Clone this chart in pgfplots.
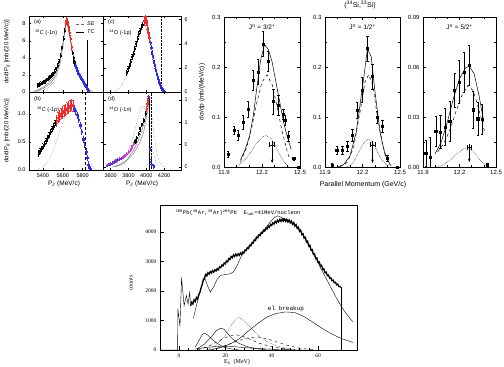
\documentclass[border=0pt]{standalone}
\usepackage{fontspec}
\setmainfont{Liberation Sans}
\newfontfamily\serifb{Liberation Serif}
\newfontfamily\monob{Liberation Mono}
\usepackage{pgfplots}
\pgfplotsset{compat=1.18}
\usetikzlibrary{arrows.meta}

\definecolor{ptred}{RGB}{235,45,45}
\definecolor{ptblue}{RGB}{45,45,225}
\definecolor{ptmag}{RGB}{215,60,215}
\definecolor{ptpur}{RGB}{120,50,200}
\definecolor{crv}{RGB}{105,105,105}

\pgfplotsset{
  base/.style={scale only axis, anchor=south west, tick align=inside,
    axis line style={line width=0.4pt}, tick style={line width=0.4pt, black},
    scaled ticks=false,
    /pgf/number format/1000 sep={},
    /pgf/number format/assume math mode=true},
  tl/.style={base, tick label style={font=\fontsize{5.5}{6}\selectfont},
    major tick length=2.2pt, minor tick length=1.2pt,
    xtick pos=both, ytick pos=both, xticklabel pos=lower, yticklabel pos=left},
  rp/.style={base, tick label style={font=\fontsize{6}{7}\selectfont},
    width=76pt, height=150pt, xmin=11.9, xmax=12.5, ymin=0,
    xtick={11.9,12.2,12.5}, minor x tick num=2, minor y tick num=1,
    major tick length=3pt, minor tick length=1.6pt,
    xtick pos=both, ytick pos=both, xticklabel pos=lower, yticklabel pos=left,
    xticklabel style={/pgf/number format/.cd, fixed, precision=1, fixed zerofill},
    every axis plot/.append style={line width=0.5pt}},
  pts/.style={only marks, mark=square*, mark size=0.55pt, line width=0.3pt,
    error bars/.cd, y dir=both, y fixed=#1},
  rpts/.style={only marks, mark=square*, mark size=1.1pt, line width=0.5pt,
    error bars/.cd, y dir=both, y explicit},
}

\begin{document}
\begin{tikzpicture}
\useasboundingbox (0pt,0pt) rectangle (504pt,367pt);
\clip (0pt,0pt) rectangle (504pt,367pt);

% ---------------- top left: (a)
\begin{axis}[tl, at={(29pt,275pt)}, width=74.5pt, height=76pt,
  xmin=5260, xmax=6010, ymin=0, ymax=8.9,
  xtick={5400,5600,5800}, xticklabels={}, ytick={0,2,4,6,8}]
\addplot[crv, densely dotted, line width=0.4pt] coordinates {
 (5350,0.05)(5400,0.2)(5450,0.5)(5500,1.0)(5540,1.8)(5570,3.0)(5600,5.0)(5620,6.9)(5635,7.9)(5650,7.6)(5670,6.4)(5700,4.6)(5740,2.8)(5780,1.6)(5820,0.7)(5860,0.2)(5900,0.03)};
\addplot[crv, line width=0.4pt] coordinates {
 (5300,0.05)(5350,0.25)(5400,0.55)(5450,1.0)(5500,1.6)(5540,2.5)(5570,3.7)(5600,5.6)(5620,7.3)(5635,8.1)(5650,7.7)(5670,6.4)(5700,4.7)(5740,3.0)(5780,1.8)(5820,0.9)(5860,0.3)(5900,0.05)};
\addplot[crv, line width=0.4pt] coordinates {
 (5330,0.05)(5380,0.3)(5430,0.6)(5480,1.05)(5530,1.9)(5570,3.3)(5600,5.3)(5620,7.1)(5635,8.0)};
\addplot[black, pts=0.22] coordinates {
 (5350,0.8)(5365,0.9)(5380,1.0)(5395,1.1)(5410,1.2)(5425,1.3)(5440,1.45)(5455,1.6)(5470,1.75)(5485,1.95)(5500,2.15)(5515,2.4)(5530,2.7)(5545,3.1)(5560,3.6)(5575,4.3)(5590,5.2)(5605,6.3)(5615,7.2)(5695,4.6)(5705,4.0)(5715,3.5)};
\addplot[ptred, pts=0.4] coordinates {
 (5625,8.0)(5635,8.4)(5645,8.2)(5655,7.6)(5665,7.0)(5675,6.2)(5685,5.3)};
\addplot[ptblue, pts=0.2] coordinates {
 (5725,3.1)(5735,2.8)(5745,2.5)(5755,2.2)(5765,2.0)(5775,1.8)(5785,1.6)(5795,1.4)(5805,1.2)(5815,1.0)(5825,0.8)(5835,0.6)(5845,0.4)(5855,0.2)(5865,0.05)};
\addplot[black, line width=0.4pt] coordinates {(5847,0)(5847,6.1)};
\end{axis}

% ---------------- (c)
\begin{axis}[tl, at={(103.5pt,275pt)}, width=77.5pt, height=76pt,
  xmin=3520, xmax=4390, ymin=0, ymax=6.3,
  xtick={3600,3800,4000,4200}, xticklabels={}, ytick={0,2,4,6}, yticklabel pos=right]
\addplot[crv, densely dotted, line width=0.4pt] coordinates {
 (3650,0.05)(3700,0.3)(3750,0.9)(3800,1.8)(3850,2.9)(3900,4.1)(3950,5.2)(3990,5.9)(4020,5.3)(4060,3.9)(4100,2.3)(4140,1.0)(4180,0.3)(4220,0.05)};
\addplot[black, pts=0.2] coordinates {
 (3780,1.6)(3795,1.9)(3810,2.2)(3825,2.5)(3840,2.9)(3855,3.2)(3870,3.6)(3885,4.0)(3900,4.4)(3915,4.8)(3930,5.1)(3945,5.4)(3960,5.6)};
\addplot[ptred, pts=0.4] coordinates {
 (3975,5.9)(3985,6.0)(3995,5.9)(4005,5.6)(4015,5.3)(4025,4.9)(4035,4.5)};
\addplot[ptblue, pts=0.15] coordinates {
 (4045,4.1)(4055,3.7)(4065,3.3)(4075,2.9)(4085,2.5)(4095,2.15)(4105,1.85)(4115,1.55)(4125,1.25)(4135,1.0)(4145,0.8)(4155,0.6)(4165,0.45)(4175,0.3)(4185,0.2)(4195,0.1)(4205,0.04)};
\addplot[black, densely dotted, line width=0.4pt] coordinates {(4173,0)(4173,6.3)};
\end{axis}

% ---------------- (b)
\begin{axis}[tl, at={(29pt,197pt)}, width=74.5pt, height=78pt,
  xmin=5260, xmax=6010, ymin=0, ymax=1.39,
  xtick={5400,5600,5800}, ytick={0,0.5,1.0},
  yticklabel style={/pgf/number format/.cd, fixed, precision=1, fixed zerofill}]
\addplot[crv, densely dotted, line width=0.4pt] coordinates {
 (5340,0.0)(5400,0.05)(5450,0.15)(5500,0.33)(5550,0.58)(5600,0.85)(5650,1.03)(5690,1.1)(5730,1.04)(5770,0.88)(5810,0.6)(5850,0.3)(5890,0.09)(5930,0.01)(5960,0)};
\addplot[black, pts=0.05] coordinates {
 (5355,0.3)(5370,0.34)(5385,0.38)(5400,0.42)(5415,0.47)(5430,0.52)(5445,0.57)(5460,0.62)(5475,0.68)(5490,0.73)(5505,0.78)(5520,0.84)};
\addplot[ptred, pts=0.1] coordinates {
 (5535,0.88)(5550,0.93)(5565,0.97)(5580,1.0)(5595,1.03)(5610,1.05)(5625,1.08)(5640,1.1)(5655,1.12)(5670,1.14)(5685,1.16)(5700,1.14)};
\addplot[ptblue, pts=0.05] coordinates {
 (5715,1.1)(5730,1.05)(5745,0.98)(5760,0.9)(5775,0.8)(5790,0.68)(5805,0.55)(5820,0.45)(5835,0.33)(5845,0.22)(5855,0.1)(5865,0.04)(5880,0.02)};
\addplot[black, densely dashed, line width=0.4pt] coordinates {(5824,0)(5824,1.39)};
\end{axis}

% ---------------- (d)
\begin{axis}[tl, at={(103.5pt,197pt)}, width=77.5pt, height=78pt,
  xmin=3520, xmax=4390, ymin=-0.067, ymax=1.68,
  xtick={3600,3800,4000,4200}, ytick={0,0.5,1.0,1.5}, yticklabel pos=right,
  yticklabel style={/pgf/number format/.cd, fixed, precision=1, fixed zerofill}]
\addplot[crv, densely dotted, line width=0.4pt] coordinates {
 (3620,0.0)(3680,0.05)(3740,0.15)(3800,0.35)(3850,0.65)(3900,1.05)(3940,1.32)(3960,1.35)(3990,1.28)(4020,1.05)(4050,0.65)(4080,0.3)(4110,0.1)(4140,0.02)};
\addplot[crv, densely dotted, line width=0.4pt] coordinates {
 (4040,1.5)(4060,1.2)(4080,0.85)(4100,0.55)(4120,0.3)(4150,0.1)(4180,0.02)(4220,0)};
\addplot[crv, line width=0.4pt] coordinates {
 (3620,0.0)(3700,0.05)(3780,0.15)(3850,0.35)(3900,0.55)(3950,0.8)(3990,1.1)(4020,1.45)(4035,1.55)};
\addplot[crv, line width=0.4pt] coordinates {
 (3650,0)(3750,0.08)(3850,0.28)(3920,0.52)(3970,0.78)(4010,1.2)(4035,1.5)};
\addplot[ptpur, pts=0.03] coordinates {
 (3560,0.04)(3580,0.06)(3600,0.08)(3620,0.1)(3640,0.12)(3660,0.14)(3680,0.16)(3700,0.18)(3720,0.2)};
\addplot[ptmag, pts=0.03] coordinates {
 (3740,0.23)(3760,0.26)(3780,0.3)(3800,0.34)(3820,0.39)(3840,0.45)(3860,0.52)};
\addplot[black, pts=0.04] coordinates {
 (3875,0.58)(3890,0.65)(3910,0.75)(3930,0.85)(3950,0.95)(3970,1.05)(3990,1.2)};
\addplot[ptred, pts=0.06] coordinates {(4000,1.3)(4010,1.42)(4020,1.52)};
\addplot[ptblue, pts=0.05] coordinates {(4030,1.55)(4040,0.4)(4050,0.12)(4060,0.05)(4080,0.02)};
\addplot[black, line width=0.4pt] coordinates {(4035,-0.067)(4035,1.55)};
\addplot[black, densely dotted, line width=0.4pt] coordinates {(4050,-0.067)(4050,1.68)};
\end{axis}
\fill[white] (186.5pt,180pt) rectangle (196pt,367pt);

% labels of the top left group
\node[rotate=90, font=\fontsize{6}{7}\selectfont] at (7pt,315pt) {dσ/dP\textsubscript{//} [mb/(20 MeV/c)]};
\node[rotate=90, font=\fontsize{6}{7}\selectfont] at (7pt,236pt) {dσ/dP\textsubscript{//} [mb/(20 MeV/c)]};
\node[font=\fontsize{6.5}{7}\selectfont] at (64pt,183pt) {P\textsubscript{//} (MeV/c)};
\node[font=\fontsize{6.5}{7}\selectfont] at (142pt,183pt) {P\textsubscript{//} (MeV/c)};
\begin{scope}[font=\fontsize{5.5}{6}\selectfont, anchor=west, inner sep=0pt]
\node at (34pt,345pt) {(a)};
\node at (35pt,334pt) {\textsuperscript{16}C (-1n)};
\node at (108pt,345pt) {(c)};
\node at (109pt,334pt) {\textsuperscript{14}O (-1p)};
\node at (34pt,268pt) {(b)};
\node at (37pt,257pt) {\textsuperscript{16}C (-1p)};
\node at (108pt,268pt) {(d)};
\node at (109pt,257pt) {\textsuperscript{14}O (-1n)};
\node at (87pt,343pt) {\itshape SE};
\node at (87pt,335pt) {\itshape TC};
\end{scope}
\draw[crv, densely dashed, line width=0.4pt] (76pt,343pt) -- (84pt,343pt);
\draw[black, line width=0.4pt] (76pt,335pt) -- (84pt,335pt);

% ---------------- top right: 3/2+
\begin{axis}[rp, at={(224pt,200pt)}, ymax=0.3, ytick={0,0.1,0.2,0.3},
  yticklabel style={/pgf/number format/.cd, fixed, precision=1, fixed zerofill}]
\addplot[black] coordinates {
 (12.03,0.015)(12.06,0.03)(12.1,0.06)(12.13,0.10)(12.16,0.16)(12.19,0.215)(12.22,0.245)(12.25,0.235)(12.28,0.21)(12.31,0.17)(12.34,0.13)(12.37,0.09)(12.40,0.06)(12.43,0.035)};
\addplot[black, dashed] coordinates {
 (12.03,0.01)(12.08,0.04)(12.12,0.08)(12.16,0.13)(12.2,0.17)(12.24,0.184)(12.28,0.165)(12.32,0.12)(12.36,0.07)(12.40,0.03)(12.42,0.015)};
\addplot[black, densely dotted] coordinates {
 (11.99,0.0)(12.05,0.01)(12.1,0.025)(12.15,0.045)(12.2,0.06)(12.23,0.063)(12.27,0.058)(12.31,0.04)(12.35,0.02)(12.39,0.005)(12.41,0)};
\addplot[black, rpts] coordinates {
 (11.934,0.026) +- (0,0.006)
 (11.979,0.074) +- (0,0.008)
 (12.013,0.063) +- (0,0.01)
 (12.052,0.089) +- (0,0.014)
 (12.092,0.116) +- (0,0.016)
 (12.131,0.174) +- (0,0.02)
 (12.170,0.19) +- (0,0.025)
 (12.21,0.246) +- (0,0.025)
 (12.25,0.212) +- (0,0.02)
 (12.29,0.131) +- (0,0.025)
 (12.33,0.124) +- (0,0.02)
 (12.37,0.106) +- (0,0.01)
 (12.38,0.093) +- (0,0.01)
 (12.41,0.062) +- (0,0.01)
 (12.45,0.017) +- (0,0.003)
 (12.49,0.0) +- (0,0.002)};
\addplot[black, -{Stealth[length=3.5pt]}] coordinates {(12.28,0.052)(12.28,0.008)};
\addplot[black, |-|] coordinates {(12.258,0.044)(12.302,0.044)};
\node[font=\fontsize{6.5}{7}\selectfont] at (axis cs:12.2,0.28) {J\textsuperscript{π} = 3/2\textsuperscript{+}};
\end{axis}

% ---------------- 1/2+
\begin{axis}[rp, at={(325pt,200pt)}, width=75pt, ymax=0.3, ytick={0,0.1,0.2,0.3},
  yticklabel style={/pgf/number format/.cd, fixed, precision=1, fixed zerofill}]
\addplot[black] coordinates {
 (12.0,0.0)(12.05,0.005)(12.1,0.022)(12.15,0.07)(12.2,0.16)(12.24,0.237)(12.27,0.22)(12.3,0.15)(12.34,0.07)(12.38,0.025)(12.42,0.005)};
\addplot[black, dashed] coordinates {
 (12.02,0.0)(12.08,0.01)(12.13,0.04)(12.18,0.11)(12.22,0.17)(12.25,0.185)(12.28,0.165)(12.32,0.1)(12.36,0.045)(12.4,0.012)(12.43,0.002)};
\addplot[black, densely dotted] coordinates {
 (12.08,0.0)(12.13,0.01)(12.18,0.035)(12.22,0.052)(12.25,0.056)(12.28,0.05)(12.32,0.03)(12.36,0.012)(12.4,0.002)};
\addplot[black, rpts] coordinates {
 (11.956,0.004) +- (0,0.004)
 (11.994,0.033) +- (0,0.008)
 (12.04,0.034) +- (0,0.008)
 (12.08,0.041) +- (0,0.01)
 (12.12,0.064) +- (0,0.012)
 (12.158,0.114) +- (0,0.016)
 (12.196,0.154) +- (0,0.025)
 (12.24,0.237) +- (0,0.025)
 (12.28,0.181) +- (0,0.025)
 (12.318,0.099) +- (0,0.012)
 (12.36,0.081) +- (0,0.012)
 (12.40,0.017) +- (0,0.006)
 (12.48,0.0) +- (0,0.002)};
\addplot[black, -{Stealth[length=3.5pt]}] coordinates {(12.28,0.052)(12.28,0.008)};
\addplot[black, |-|] coordinates {(12.26,0.044)(12.30,0.044)};
\node[font=\fontsize{6.5}{7}\selectfont] at (axis cs:12.2,0.28) {J\textsuperscript{π} = 1/2\textsuperscript{+}};
\end{axis}

% ---------------- 5/2+
\begin{axis}[rp, at={(423pt,200pt)}, width=73pt, ymax=0.09, ytick={0,0.03,0.06,0.09},
  yticklabel style={/pgf/number format/.cd, fixed, precision=2, fixed zerofill}]
\addplot[black] coordinates {
 (12.0,0.008)(12.05,0.015)(12.1,0.027)(12.15,0.041)(12.2,0.053)(12.25,0.0595)(12.28,0.0605)(12.32,0.056)(12.36,0.043)(12.4,0.027)};
\addplot[black, dashed] coordinates {
 (12.02,0.009)(12.07,0.014)(12.12,0.022)(12.17,0.033)(12.22,0.043)(12.27,0.049)(12.31,0.046)(12.35,0.037)(12.39,0.026)(12.41,0.02)};
\addplot[black, densely dotted] coordinates {
 (12.0,0.0)(12.06,0.001)(12.12,0.004)(12.18,0.008)(12.24,0.0112)(12.28,0.0115)(12.32,0.009)(12.36,0.005)(12.4,0.002)(12.44,0)};
\addplot[black, rpts] coordinates {
 (11.923,0.0082) +- (0,0.008)
 (11.96,0.006) +- (0,0.012)
 (12.005,0.0216) +- (0,0.009)
 (12.044,0.021) +- (0,0.01)
 (12.082,0.024) +- (0,0.011)
 (12.12,0.0276) +- (0,0.012)
 (12.16,0.046) +- (0,0.01)
 (12.198,0.051) +- (0,0.013)
 (12.236,0.0568) +- (0,0.012)
 (12.28,0.061) +- (0,0.012)
 (12.313,0.0344) +- (0,0.011)
 (12.35,0.029) +- (0,0.01)
 (12.385,0.0286) +- (0,0.009)
 (12.43,0.0012) +- (0,0.001)};
\addplot[black, -{Stealth[length=3.5pt]}] coordinates {(12.28,0.0135)(12.28,0.003)};
\addplot[black, |-|] coordinates {(12.26,0.0118)(12.30,0.0118)};
\node[font=\fontsize{6.5}{7}\selectfont] at (axis cs:12.2,0.084) {J\textsuperscript{π} = 5/2\textsuperscript{+}};
\end{axis}

\node[font=\fontsize{7}{8}\selectfont] at (360pt,362pt) {(\textsuperscript{34}Si,\textsuperscript{33}Si)};
\node[rotate=90, font=\fontsize{6.5}{7}\selectfont] at (202pt,275pt) {dσ/dp  (mb/(MeV/c))};
\node[font=\fontsize{7}{8}\selectfont] at (363pt,182pt) {Parallel Momentum (GeV/c)};

% ---------------- bottom
\begin{axis}[base, at={(160pt,17pt)}, width=197pt, height=145pt,
  xmin=-8.2, xmax=76.8, ymin=0, ymax=4915,
  xtick={0,20,40,60}, ytick={0,1000,2000,3000,4000}, minor x tick num=4,
  xtick pos=lower, ytick pos=left, major tick length=4pt, minor tick length=2pt,
  tick label style={font=\serifb\fontsize{5.5}{6}\selectfont},
  every axis plot/.append style={line width=0.4pt}]
\addplot[black] coordinates {
 (-8.2,0)(-0.6,0)(-0.5,1400)(0.4,800)(1.1,2450)(2.2,1500)(3.2,1850)(3.9,1550)(4.6,1950)(5,1500)};
\addplot[black, line width=1.3pt] coordinates {
 (5,1500)(5.5,1620)(6,1560)(6.5,1700)(7,1640)(7.5,1780)(8,1730)(8.5,1880)(9,1950)(9.5,2100)(10,2220)(10.5,2380)(11,2440)(11.5,2560)(12,2510)(12.5,2620)(13,2570)(13.5,2660)(14,2610)(14.5,2690)(15,2640)(15.5,2720)(16,2680)(16.5,2760)(17,2720)(17.5,2820)(18,2790)(18.5,2880)(19,2850)(19.5,2950)(20,2920)(20.5,3020)(21,2990)(21.5,3100)(22,3070)(22.5,3170)(23,3130)(23.5,3220)(24,3170)(24.5,3250)(25,3190)(25.5,3260)(26,3210)(26.5,3290)(27,3240)(27.5,3320)(28,3290)(28.5,3390)(29,3370)(29.5,3470)(30,3440)(30.5,3550)(31,3530)(31.5,3640)(32,3620)(32.5,3730)(33,3710)(33.5,3820)(34,3800)(34.5,3900)(35,3880)(35.5,3980)(36,3960)(36.5,4060)(37,4030)(37.5,4130)(38,4100)(38.5,4200)(39,4160)(39.5,4260)(40,4220)(40.5,4310)(41,4270)(41.5,4360)(42,4310)(42.5,4400)(43,4340)(43.5,4430)(44,4360)(44.5,4440)(45,4370)(45.5,4440)(46,4360)(46.5,4430)(47,4340)(47.5,4410)(48,4310)(48.5,4370)(49,4260)(49.5,4320)(50,4200)(50.5,4250)(51,4120)(51.5,4160)(52,4020)(52.5,4060)(53,3910)(53.5,3940)(54,3790)(54.5,3820)(55,3660)(55.5,3690)(56,3520)(56.5,3550)(57,3380)(57.5,3400)(58,3240)(58.5,3260)(59,3100)(59.5,3120)(60,2970)(60.5,2990)(61,2850)(61.5,2870)(62,2730)(62.5,2750)(63,2620)(63.5,2640)(64,2520)(64.5,2540)(65,2430)(65.5,2450)(66,2350)(66.5,2370)(67,2280)(67.5,2300)(68,2210)(68.5,2230)(69,2150)(69.5,2150)(69.8,2120)};
\addplot[black] coordinates {(69.8,2120)(69.8,0)};
\addplot[black] coordinates {
 (6.2,1070)(7.5,1500)(9,1950)(10.3,2300)(11.2,2430)(12.2,2200)(13.5,1960)(15,2150)(16.5,2400)(18,2530)(20,2560)(22,2580)(23.5,2650)(25,2850)(27,3200)(29,3400)(31,3580)(33,3800)(35,3950)(37,4100)(39,4300)(41,4480)(42.5,4550)(44,4500)(46,4420)(48,4350)(50,4250)(52,4100)(54,3850)(56,3550)(58,3250)(60,2950)(62,2650)(64,2350)(66,2050)(68,1750)(70,1480)(72,1250)(74,1050)(75,960)};
\addplot[black] coordinates {
 (13,0)(18,80)(22,200)(26,380)(30,650)(34,900)(38,1120)(42,1240)(46,1290)(50,1270)(54,1130)(58,930)(62,720)(66,540)(70,390)(75,260)};
\addplot[black, densely dotted] coordinates {
 (12,0)(16,150)(20,500)(23,900)(25.5,1120)(28,1000)(31,750)(34,500)(38,280)(42,140)(46,60)(50,20)(55,0)};
\addplot[black] coordinates {
 (7,100)(8.5,300)(10,520)(11,570)(12.5,500)(14,380)(16,250)(18,150)(20,80)(23,30)(26,0)};
\addplot[black] coordinates {
 (8,50)(11,200)(14,450)(16,650)(18,740)(19.5,700)(21,550)(23,380)(26,220)(30,100)(34,40)(38,0)};
\addplot[black, dashed] coordinates {
 (8,0)(12,100)(16,260)(20,420)(24,520)(27,480)(31,350)(35,220)(40,110)(45,50)(50,10)};
\addplot[black, dashed] coordinates {
 (14,0)(20,150)(25,300)(30,420)(34,440)(38,380)(43,250)(48,130)(53,50)(58,10)};
\addplot[black] coordinates {
 (7,30)(12,90)(18,130)(24,110)(30,70)(36,40)(42,20)(50,5)};
\end{axis}

\node[anchor=west, font=\monob\fontsize{5.5}{6}\selectfont] at (172pt,154pt) {\textsuperscript{208}Pb(\textsuperscript{40}Ar,\textsuperscript{39}Ar)\textsuperscript{208}Pb\ \ E\textsubscript{lab}=41MeV/nucleon};
\node[font=\monob\fontsize{6}{7}\selectfont] at (286pt,58pt) {el breakup};
\node[rotate=90, font=\serifb\fontsize{6}{7}\selectfont] at (131pt,84pt) {counts};
\node[font=\serifb\fontsize{6}{7}\selectfont] at (237pt,5pt) {E\textsubscript{x}\ \ (MeV)};
\end{tikzpicture}
\end{document}
